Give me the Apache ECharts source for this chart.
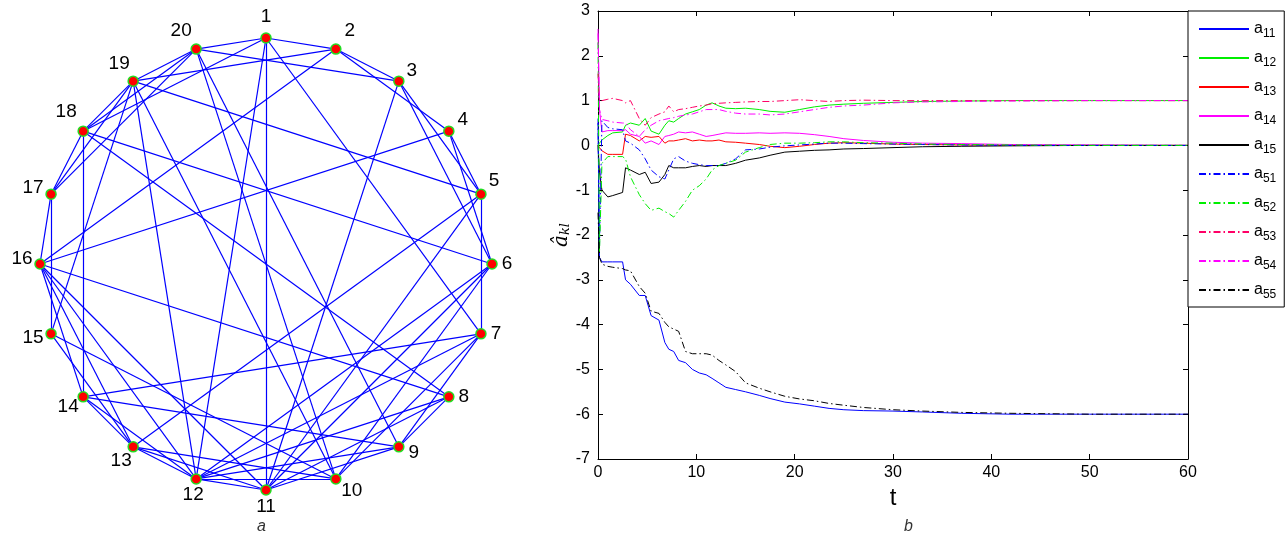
<!DOCTYPE html>
<html><head><meta charset="utf-8">
<script src="https://cdn.jsdelivr.net/npm/echarts@6/dist/echarts.min.js"></script>
<style>html,body{margin:0;padding:0;background:#fff}#c{width:1288px;height:539px}</style>
</head><body><div id="c"></div>
<script>
// ---------- DATA ----------
const nodeNames = ['1','2','3','4','5','6','7','8','9','10','11','12','13','14','15','16','17','18','19','20'];
const edgeList = [
  [1,20],[1,2],[1,11],[1,12],[1,7],[1,18],
  [2,19],[2,3],[2,4],[2,16],
  [3,20],[3,5],[3,6],[3,11],
  [4,5],[4,6],[4,16],
  [5,19],[5,7],[5,11],[5,13],
  [6,18],[6,12],[6,11],[6,10],
  [7,14],[7,12],[7,10],[7,9],
  [8,16],[8,18],[8,9],[8,12],[8,11],
  [9,20],[9,14],[9,12],[9,11],
  [10,20],[10,19],[10,12],[10,13],[10,15],
  [11,12],[11,13],[11,16],
  [12,19],[12,13],[12,14],[12,16],
  [13,14],[13,15],[13,16],
  [14,18],[14,16],
  [15,17],[15,19],
  [16,17],
  [17,18],[17,19],[17,20],
  [18,19],[18,20],
  [19,20]
];

const t   = [0,0.15,0.4,1,1.5,2.5,2.8,3.3,4.2,4.8,5.4,6.2,6.8,7.2,7.7,8.2,8.9,9.6,10.3,11,11.6,12.3,13,14,15,16.4,17.5,19,20.5,22,23.5,25,27,30,33,37,42,50,60];
const a11 = [0.5,-2.5,-2.6,-2.6,-2.6,-2.6,-3.0,-3.1,-3.35,-3.35,-3.8,-3.9,-4.4,-4.55,-4.6,-4.8,-4.85,-5.0,-5.08,-5.12,-5.2,-5.3,-5.4,-5.45,-5.5,-5.58,-5.65,-5.73,-5.77,-5.82,-5.87,-5.9,-5.92,-5.93,-5.95,-5.98,-6.0,-6.0,-6.0];
const a12 = [0,0.05,0.12,0.22,0.28,0.3,0.45,0.5,0.45,0.6,0.32,0.25,0.45,0.55,0.52,0.6,0.7,0.75,0.8,0.9,0.95,0.88,0.83,0.82,0.83,0.8,0.76,0.74,0.8,0.86,0.9,0.92,0.94,0.96,0.98,0.99,1,1,1];
const a13 = [0,-0.05,-0.12,-0.2,-0.2,-0.2,0.25,0.22,0.1,0.2,0.18,0.2,0.05,0.1,0.1,0.12,0.15,0.1,0.12,0.1,0.1,0.12,0.08,0.07,0.05,0.02,-0.02,-0.05,-0.02,0.02,0.05,0.06,0.05,0.03,0.02,0.01,0,0,0];
const a14 = [2.6,0.8,0.3,0.33,0.33,0.33,0.35,0.25,0.2,0.05,0.1,0.02,0.2,0.22,0.25,0.3,0.28,0.3,0.25,0.2,0.22,0.25,0.28,0.27,0.27,0.28,0.27,0.28,0.27,0.24,0.2,0.15,0.11,0.07,0.05,0.04,0.02,0.01,0];
const a15 = [0,-0.6,-1.0,-1.15,-1.12,-1.05,-0.5,-0.55,-0.65,-0.6,-0.85,-0.82,-0.65,-0.45,-0.5,-0.5,-0.5,-0.47,-0.45,-0.47,-0.45,-0.45,-0.45,-0.4,-0.33,-0.28,-0.22,-0.15,-0.13,-0.11,-0.1,-0.08,-0.07,-0.05,-0.03,-0.02,-0.01,0,0];
const a51 = [0.6,-2.3,0.55,0.4,0.37,0.35,0.1,0.05,-0.1,-0.3,-0.55,-0.7,-0.75,-0.55,-0.3,-0.25,-0.35,-0.4,-0.43,-0.45,-0.45,-0.45,-0.4,-0.3,-0.1,-0.08,-0.04,-0.01,0.01,0.03,0.05,0.05,0.04,0.03,0.02,0.01,0,0,0];
const a52 = [2.3,-2.4,-0.4,-0.25,-0.25,-0.25,-0.3,-0.7,-1.1,-1.3,-1.45,-1.4,-1.48,-1.52,-1.6,-1.45,-1.25,-1.0,-0.9,-0.75,-0.55,-0.45,-0.4,-0.33,-0.15,-0.05,0.02,0.05,0.05,0.06,0.08,0.08,0.06,0.05,0.03,0.02,0.01,0,0];
const a53 = [1.6,1.0,1.0,1.03,1.05,1.0,0.95,1.0,0.6,0.45,0.62,0.7,0.75,0.88,0.75,0.8,0.82,0.85,0.88,0.9,0.93,0.94,0.95,0.96,0.97,0.98,0.98,1.0,1.02,1.0,0.98,1.0,1.01,1.0,1,1,1,1,1];
const a54 = [2.5,0.8,0.58,0.55,0.52,0.5,0.5,0.35,0.2,0.35,0.45,0.55,0.58,0.6,0.62,0.65,0.68,0.7,0.75,0.8,0.8,0.8,0.76,0.72,0.7,0.7,0.68,0.7,0.75,0.8,0.85,0.88,0.9,0.95,0.97,0.98,0.99,1,1];
const a55 = [-1.5,-2.5,-2.65,-2.7,-2.72,-2.75,-2.78,-2.8,-3.15,-3.3,-3.7,-3.75,-3.95,-4.05,-4.1,-4.15,-4.6,-4.65,-4.65,-4.65,-4.68,-4.8,-4.9,-5.05,-5.3,-5.42,-5.5,-5.6,-5.66,-5.7,-5.76,-5.8,-5.85,-5.9,-5.93,-5.96,-5.98,-6.0,-6.0];
const seriesNames = ['a11','a12','a13','a14','a15','a51','a52','a53','a54','a55'];
const seriesValues = [a11,a12,a13,a14,a15,a51,a52,a53,a54,a55];

// ---------- STYLE ----------
const seriesColors = ['#0000ff','#00ee00','#ff0000','#ff00ff','#000000','#0000ff','#00ee00','#ff0066','#ff00ff','#000000'];
const seriesDash = ['solid','solid','solid','solid','solid','dd','dd','dd','dd','dd'];
const labelOffsets = [[0,-21],[14,-18],[13,-10],[14,-11],[13,-13],[15,0],[15,0],[15,0],[15,6],[16,12],[0,17],[-3,16],[-12,14],[-15,10],[-18,4],[-18,-5],[-18,-6],[-17,-19],[-14,-17],[-15,-18]];

const ANG = 360 / nodeNames.length;
const nodes = nodeNames.map((n, i) => ({
  name: n,
  value: [1, i * ANG],
  label: { offset: labelOffsets[i] }
}));
const links = edgeList.map(e => ({ source: nodeNames[e[0]-1], target: nodeNames[e[1]-1] }));

const FONT = 'Liberation Sans, Arial, sans-serif';

const lineSeries = seriesNames.map((name, k) => ({
  name: name,
  type: 'line',
  xAxisIndex: 0, yAxisIndex: 0,
  data: t.map((tt, i) => [tt, seriesValues[k][i]]),
  showSymbol: false, symbol: 'none',
  smooth: false,
  lineStyle: {
    color: seriesColors[k], width: 1,
    type: seriesDash[k] === 'dd' ? [7, 3, 1.5, 3] : 'solid'
  },
  itemStyle: { color: seriesColors[k] },
  emphasis: { disabled: true },
  z: 2
}));

const axisBase = {
  axisLine: { show: true, onZero: false, lineStyle: { color: '#000', width: 1 } },
  axisTick: { inside: true, length: 5, lineStyle: { color: '#000' } },
  splitLine: { show: false }
};

const chart = echarts.init(document.getElementById('c'), null, { renderer: 'canvas' });
chart.setOption({
  animation: false,
  backgroundColor: '#ffffff',
  polar: { center: [266, 264], radius: 226 },
  angleAxis: { type: 'value', min: 0, max: 360, startAngle: 90, clockwise: true, show: false },
  radiusAxis: { type: 'value', min: 0, max: 1, show: false },
  grid: { left: 598, right: 100, top: 11, bottom: 80, containLabel: false },
  xAxis: [
    Object.assign({ type: 'value', gridIndex: 0, min: 0, max: 60, interval: 10, position: 'bottom',
      axisLabel: { color: '#000', fontSize: 16, fontFamily: FONT, margin: 6 },
      name: 't', nameLocation: 'middle', nameGap: 27,
      nameTextStyle: { color: '#000', fontSize: 24, fontFamily: FONT } }, axisBase),
    Object.assign({ type: 'value', gridIndex: 0, min: 0, max: 60, interval: 10, position: 'top',
      axisLabel: { show: false } }, axisBase)
  ],
  yAxis: [
    Object.assign({ type: 'value', gridIndex: 0, min: -7, max: 3, interval: 1, position: 'left',
      axisLabel: { color: '#000', fontSize: 16, fontFamily: FONT, margin: 8 },
      name: '{h|â}{s|kl}', nameLocation: 'middle', nameGap: 9, nameRotate: 90,
      nameTextStyle: { rich: {
        h: { fontFamily: 'DejaVu Serif, serif', fontStyle: 'italic', fontSize: 20, color: '#000' },
        s: { fontFamily: 'DejaVu Serif, serif', fontStyle: 'italic', fontSize: 13, color: '#000', padding: [8, 0, 0, 0] }
      } } }, axisBase),
    Object.assign({ type: 'value', gridIndex: 0, min: -7, max: 3, interval: 1, position: 'right',
      axisLabel: { show: false } }, axisBase)
  ],
  legend: {
    orient: 'vertical', left: 1188, top: 11,
    padding: [7, 8, 6, 10],
    itemWidth: 50, itemHeight: 12, itemGap: 7,
    borderColor: '#000', borderWidth: 1, backgroundColor: '#fff',
    data: seriesNames,
    itemStyle: { opacity: 0 },
    formatter: n => '{a|a}{s|' + n.slice(1) + '}',
    textStyle: { rich: {
      a: { fontSize: 16, fontFamily: FONT, color: '#000', lineHeight: 20 },
      s: { fontSize: 12, fontFamily: FONT, color: '#000', padding: [10, 0, 0, 0], lineHeight: 20 }
    } },
    selectedMode: false
  },
  graphic: [
    { type: 'text', left: 257, top: 519, style: { text: 'a', font: 'italic 16px ' + FONT, fill: '#333' } },
    { type: 'text', left: 904, top: 519, style: { text: 'b', font: 'italic 16px ' + FONT, fill: '#333' } }
  ],
  series: [
    {
      type: 'graph',
      coordinateSystem: 'polar',
      polarIndex: 0,
      data: nodes,
      links: links,
      symbol: 'circle',
      symbolSize: 10,
      itemStyle: { color: '#ff0000', borderColor: '#22dd22', borderWidth: 1.5 },
      lineStyle: { color: '#0000ff', width: 1.2, opacity: 1, curveness: 0 },
      label: { show: true, position: 'inside', color: '#000', fontSize: 19, fontFamily: FONT },
      emphasis: { disabled: true },
      silent: true,
      z: 3
    }
  ].concat(lineSeries)
});
</script>
</body></html>
